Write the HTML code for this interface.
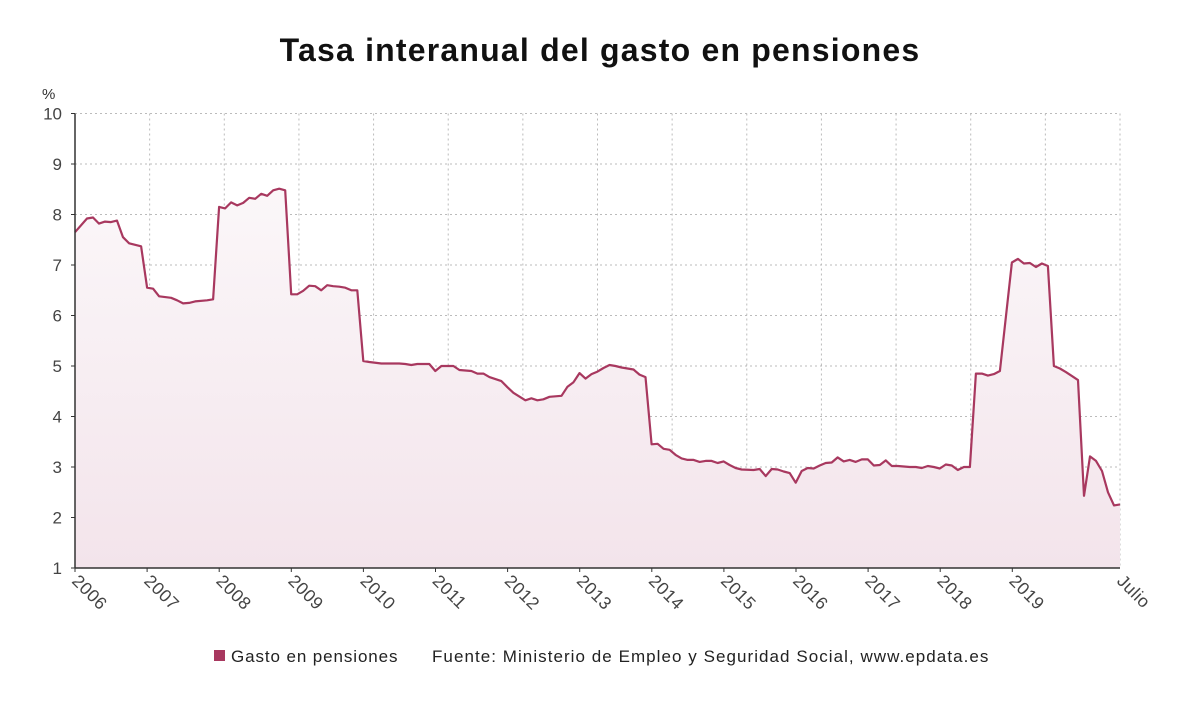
<!DOCTYPE html>
<html><head><meta charset="utf-8"><style>
body{margin:0;background:#fff;width:1200px;height:705px;overflow:hidden;font-family:"Liberation Sans",sans-serif}
</style></head><body>
<svg width="1200" height="705" xmlns="http://www.w3.org/2000/svg">
<defs><linearGradient id="fg" x1="0" y1="0" x2="0" y2="1"><stop offset="0" stop-color="#fbf7f9"/><stop offset="1" stop-color="#f3e4eb"/></linearGradient></defs>
<text x="600" y="61" text-anchor="middle" font-size="32" font-weight="bold" fill="#111" letter-spacing="1.2">Tasa interanual del gasto en pensiones</text>
<text x="42" y="99" font-size="15" fill="#333">%</text>
<g id="grid"></g><g id="area"></g><g id="axes"></g>
<rect x="214" y="650" width="11" height="11" fill="#a8385f"/>
<text x="231" y="662" font-size="17" fill="#222" letter-spacing="0.9">Gasto en pensiones</text>
<text x="432" y="662" font-size="17" fill="#222" letter-spacing="1.05">Fuente: Ministerio de Empleo y Seguridad Social, www.epdata.es</text>
</svg>
<script>
const months=[0,2,3,4,5,6,7,8,9,11,12,13,14,16,17,18,19,20,22,23,24,25,26,27,28,29,30,31,32,33,34,35,36,37,38,39,40,41,42,43,44,45,46,47,48,49,51,53,54,55,56,57,58,59,60,61,63,64,66,67,68,69,71,72,73,75,76,77,78,79,81,82,83,84,85,86,87,88,89,90,91,93,94,95,96,97,98,99,100,101,102,103,104,105,106,107,108,109,110,111,113,114,115,116,117,118,119,120,121,122,123,124,125,126,127,128,129,130,131,132,133,134,135,136,137,139,140,141,142,143,144,145,146,147,148,149,150,151,152,153,154,156,157,158,159,160,161,162,163,164,165,166,167,168,169,170,171,172,173,174];
const values=[7.65,7.92,7.94,7.82,7.86,7.85,7.88,7.55,7.43,7.37,6.55,6.53,6.38,6.35,6.30,6.24,6.25,6.28,6.30,6.32,8.15,8.12,8.24,8.18,8.23,8.33,8.31,8.41,8.37,8.48,8.51,8.48,6.42,6.42,6.49,6.59,6.58,6.50,6.60,6.58,6.57,6.55,6.50,6.50,5.10,5.08,5.05,5.05,5.05,5.04,5.02,5.04,5.04,5.04,4.90,5.0,5.0,4.92,4.90,4.85,4.85,4.78,4.70,4.58,4.47,4.32,4.36,4.32,4.34,4.39,4.41,4.59,4.68,4.86,4.75,4.84,4.89,4.96,5.02,5.0,4.97,4.93,4.83,4.78,3.45,3.46,3.36,3.34,3.24,3.17,3.14,3.14,3.10,3.12,3.12,3.08,3.11,3.04,2.98,2.95,2.94,2.96,2.82,2.96,2.95,2.91,2.88,2.69,2.92,2.98,2.97,3.03,3.08,3.09,3.19,3.11,3.14,3.10,3.15,3.15,3.03,3.04,3.13,3.02,3.02,3.00,3.0,2.98,3.02,3.0,2.97,3.05,3.03,2.94,3.0,3.0,4.85,4.85,4.81,4.84,4.90,7.05,7.12,7.03,7.04,6.96,7.03,6.98,5.0,4.95,4.88,4.80,4.72,2.43,3.21,3.12,2.92,2.5,2.24,2.26];
const yTicks=[1,2,3,4,5,6,7,8,9,10];
const xLabels=["2006","2007","2008","2009","2010","2011","2012","2013","2014","2015","2016","2017","2018","2019"];
const endLabel="Julio";
const NS="http://www.w3.org/2000/svg";
const X0=75,X1=1120,Y0=568,Y1=113.5;
const xS=m=>X0+(m-0)/(174-0)*(X1-X0);
const yS=v=>Y0-(v-1)/(10-1)*(Y0-Y1);
function mk(t,a,p){const e=document.createElementNS(NS,t);for(const k in a)e.setAttribute(k,a[k]);p.appendChild(e);return e;}
const grid=document.getElementById('grid'),area=document.getElementById('area'),axes=document.getElementById('axes');
yTicks.forEach(v=>{const y=yS(v);
 if(v>1){const l=mk('line',{x1:X0,x2:X1,y1:y,y2:y,stroke:'#bbb','stroke-dasharray':'2,3'},grid);
 
 }
 const t=mk('text',{x:62,y:y+6,'text-anchor':'end','font-size':17,fill:'#444'},axes);t.textContent=v;
 
 
 mk('line',{x1:X0-4,x2:X0,y1:y,y2:y,stroke:'#333'},axes);
});
for(let i=1;i<=14;i++){const x=X0+i*(X1-X0)/14;
 const l=mk('line',{x1:x,x2:x,y1:Y1,y2:Y0,stroke:'#bbb','stroke-dasharray':'2,3'},grid);
 
 }
let d='';months.forEach((m,i)=>{d+=(i?'L':'M')+xS(m).toFixed(1)+','+yS(values[i]).toFixed(1);});
const fill=mk('path',{d:d+'L'+xS(months[months.length-1])+','+Y0+'L'+xS(months[0])+','+Y0+'Z',fill:'url(#fg)'},area);


const line=mk('path',{d:d,fill:'none',stroke:'#a8385f','stroke-width':2.2,'stroke-linejoin':'round'},area);


mk('line',{x1:X0,x2:X0,y1:Y1,y2:Y0,stroke:'#333','stroke-width':1.5},axes);
mk('line',{x1:X0,x2:X1,y1:Y0,y2:Y0,stroke:'#333','stroke-width':1.5},axes);
const step=72.1;
xLabels.forEach((s,i)=>{const x=X0+i*step;
 mk('line',{x1:x,x2:x,y1:Y0,y2:Y0+4,stroke:'#333'},axes);
 const t=mk('text',{x:x-4,y:Y0+14,'font-size':17.5,fill:'#444','letter-spacing':0.5,transform:'rotate(45 '+(x-4)+' '+(Y0+14)+')'},axes);t.textContent=s;
 
 
});
const te=mk('text',{x:X1-4,y:Y0+14,'font-size':17.5,fill:'#444','letter-spacing':0.5,transform:'rotate(45 '+(X1-4)+' '+(Y0+14)+')'},axes);te.textContent=endLabel;


</script>
</body></html>
